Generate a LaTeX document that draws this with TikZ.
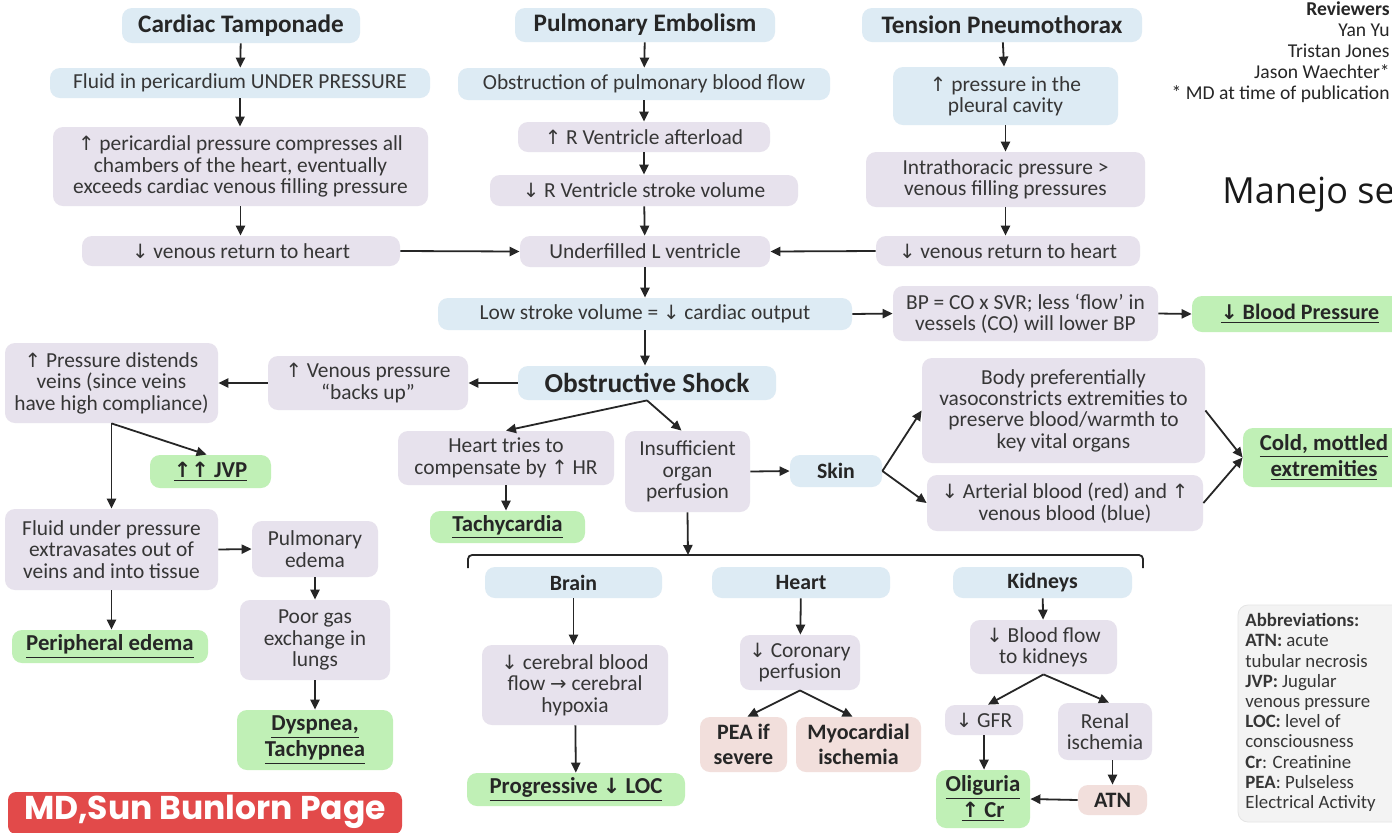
\documentclass[tikz,border=0pt]{standalone}
\usepackage{fontspec}
\setmainfont{Carlito}
\newfontfamily\opensans{Open Sans}
\newfontfamily\popfont{Poppins}
\newfontfamily\arrf[Scale=0.92]{DejaVu Sans}
\usetikzlibrary{arrows.meta,calc}
\definecolor{cblue}{HTML}{DDEBF4}
\definecolor{clav}{HTML}{E7E2ED}
\definecolor{cgreen}{HTML}{C0F0B6}
\definecolor{cpink}{HTML}{F2DFDC}
\definecolor{txt}{HTML}{363636}
\definecolor{cred}{HTML}{E24A4A}
\definecolor{abbr}{HTML}{F3F3F3}
\newcommand\bx[7]{\node[#2, minimum width={(#5-#3)*0.5pt}, minimum height={(#6-#4)*0.5pt}] (#1) at ({(#3+#5)/2},{(#4+#6)/2}) {#7};}
\newcommand\U{{\arrf ↑}}
\newcommand\D{{\arrf ↓}}
\newcommand\R{{\arrf →}}
\tikzset{
 base/.style={rounded corners=5pt, inner sep=0pt, align=center, text=txt, font=\fontsize{10.7}{10.7}\selectfont},
 bl/.style={base, fill=cblue},
 lv/.style={base, fill=clav},
 gr/.style={base, fill=cgreen, text=black!85, font=\fontsize{11.4}{13}\selectfont\bfseries},
 pk/.style={base, fill=cpink, text=black!85, font=\fontsize{11}{12.5}\selectfont\bfseries},
 ttl/.style={bl, text=black!85, font=\fontsize{12.6}{14}\selectfont\bfseries},
 sub/.style={bl, text=black!85, font=\fontsize{10.9}{12}\selectfont\bfseries},
 arr/.style={-{Triangle[length=5pt,width=4.6pt]}, line width=0.9pt, draw=black!85},
 ln/.style={line width=0.9pt, draw=black!85},
}
\begin{document}
\begin{tikzpicture}[x=0.5pt,y=-0.5pt]
\useasboundingbox (0,0) rectangle (1392,832);
\clip (0,0) rectangle (1392,832);
\fill[white] (0,0) rectangle (1392,832);
% column 1
\bx{CT}{ttl}{122}{8}{360}{43}{Cardiac Tamponade}
\bx{FP}{bl}{50}{68}{430}{98}{Fluid in pericardium UNDER PRESSURE}
\bx{PP}{lv}{53}{127}{428}{206}{\U\ pericardial pressure compresses all\\chambers of the heart, eventually\\exceeds cardiac venous filling pressure}
\bx{VR1}{lv}{82}{236}{400}{266}{\D\ venous return to heart}
% column 2
\bx{PE}{ttl}{515}{8}{775}{42}{Pulmonary Embolism}
\bx{OB}{bl}{458}{68}{830}{100}{Obstruction of pulmonary blood flow}
\bx{RA}{lv}{518}{122}{770}{152}{\U\ R Ventricle afterload}
\bx{RS}{lv}{490}{175}{798}{206}{\D\ R Ventricle stroke volume}
\bx{UL}{lv}{520}{236}{770}{267}{Underfilled L ventricle}
% column 3
\bx{TP}{ttl}{862}{8}{1142}{42}{Tension Pneumothorax}
\bx{TP1}{bl}{893}{67}{1118}{125}{\U\ pressure in the\\pleural cavity}
\bx{TP2}{lv}{866}{152}{1145}{207}{Intrathoracic pressure >\\venous filling pressures}
\bx{VR2}{lv}{876}{236}{1140}{266}{\D\ venous return to heart}
% middle
\bx{LSV}{bl}{438}{298}{852}{330}{Low stroke volume = \D\ cardiac output}
\bx{BP}{lv}{893}{286}{1158}{341}{BP = CO x SVR; less ‘flow’ in\\vessels (CO) will lower BP}
\bx{BPr}{gr}{1192}{296}{1410}{332}{}
\node[text=black!85, font=\fontsize{11}{13}\selectfont\bfseries, inner sep=0pt] (BPrT) at (1300,314) {\underline{\D\ Blood Pressure}};
\bx{OS}{bl}{518}{366}{776}{400}{}
\node[text=black!85, font=\fontsize{13.7}{15}\selectfont\bfseries] (OST) at (OS) {Obstructive Shock};
\bx{VP}{lv}{268}{356}{468}{410}{\U\ Venous pressure\\“backs up”}
\bx{PD}{lv}{5}{343}{218}{423}{\U\ Pressure distends\\veins (since veins\\have high compliance)}
\bx{JVP}{gr}{150}{455}{271}{488}{\underline{\U\U\ JVP}}
\bx{FU}{lv}{5}{509}{218}{590}{Fluid under pressure\\extravasates out of\\veins and into tissue}
\bx{PEd}{lv}{252}{521}{378}{577}{Pulmonary\\edema}
\bx{PG}{lv}{240}{600}{390}{680}{Poor gas\\exchange in\\lungs}
\bx{DT}{gr}{237}{710}{393}{770}{\underline{Dyspnea,}\\\underline{Tachypnea}}
\bx{PEr}{gr}{12}{630}{208}{663}{\underline{Peripheral edema}}
\bx{HT}{lv}{398}{431}{614}{485}{Heart tries to\\compensate by \U\ HR}
\bx{Tc}{gr}{430}{511}{585}{543}{\underline{Tachycardia}}
\bx{IOP}{lv}{625}{431}{750}{512}{Insufficient\\organ\\perfusion}
\bx{Skin}{sub}{790}{455}{882}{487}{Skin}
\bx{BPV}{lv}{922}{358}{1205}{463}{Body preferentially\\vasoconstricts extremities to\\preserve blood/warmth to\\key vital organs}
\bx{AB}{lv}{927}{475}{1203}{531}{\D\ Arterial blood (red) and \U\\venous blood (blue)}
\bx{CM}{gr}{1243}{428}{1405}{487}{\underline{Cold, mottled}\\\underline{extremities}}
% organs
\bx{Brain}{sub}{485}{567}{662}{598}{Brain}
\bx{CBF}{lv}{482}{645}{668}{725}{\D\ cerebral blood\\flow \R\ cerebral\\hypoxia}
\bx{PLOC}{gr}{467}{773}{685}{806}{\underline{Progressive \D\ LOC}}
\bx{Heart}{sub}{712}{567}{890}{598}{Heart}
\bx{CP}{lv}{740}{635}{860}{690}{\D\ Coronary\\perfusion}
\bx{PEA}{pk}{700}{717}{787}{772}{PEA if\\severe}
\bx{MI}{pk}{796}{717}{921}{772}{Myocardial\\ischemia}
\bx{Kid}{sub}{953}{567}{1132}{598}{Kidneys}
\bx{BFK}{lv}{970}{620}{1117}{674}{\D\ Blood flow\\to kidneys}
\bx{GFR}{lv}{945}{705}{1023}{735}{\D\ GFR}
\bx{RI}{lv}{1058}{703}{1152}{760}{Renal\\ischemia}
\bx{ATN}{pk}{1078}{785}{1147}{815}{ATN}
\bx{OL}{gr}{936}{770}{1030}{828}{\underline{Oliguria}\\\underline{\U\ Cr}}
% abbreviations
\bx{AbB}{base, fill=abbr, draw=black!10}{1238}{605}{1410}{822}{}
\node[anchor=north west, align=left, text=txt, inner sep=0pt, font=\fontsize{9.4}{10.1}\selectfont] (AbT) at (1245,613)
 {\textbf{Abbreviations:}\\\textbf{ATN:} acute\\tubular necrosis\\\textbf{JVP:} Jugular\\venous pressure\\\textbf{LOC:} level of\\consciousness\\\textbf{Cr}: Creatinine\\\textbf{PEA}: Pulseless\\Electrical Activity};
% reviewers
\node[anchor=north east, align=right, text=black!85, inner sep=0pt, font=\fontsize{9.8}{10.6}\selectfont] (Rev) at (1390,1)
 {\textbf{Reviewers}\\Yan Yu\\Tristan Jones\\Jason Waechter*\\* MD at time of publication};
\node[anchor=base west, inner sep=0pt, text=black!90, font=\opensans\fontsize{18}{20}\selectfont] (Man) at (1222,203) {Manejo se};
% red label
\bx{MD}{base, fill=cred, rounded corners=4pt}{8}{792}{402}{834}{}
\node[text=white, font=\popfont\bfseries\fontsize{16.5}{18}\selectfont] (MDT) at (205,812) {MD,Sun Bunlorn Page};
% connectors
\draw[arr] (CT) -- (FP);
\draw[arr] (FP.south) -- (FP.south |- PP.north);
\draw[arr] (PP.south) -- (PP.south |- VR1.north);
\draw[arr] (VR1.east) -- (UL.west);
\draw[arr] (PE) -- (OB);
\draw[arr] (OB) -- (RA);
\draw[arr] (RA) -- (RS);
\draw[arr] (RS) -- (UL);
\draw[arr] (TP) -- (TP1);
\draw[arr] (TP1) -- (TP2);
\draw[arr] (TP2.south) -- (TP2.south |- VR2.north);
\draw[arr] (VR2.west) -- (UL.east);
\draw[arr] (UL) -- (LSV);
\draw[arr] (LSV.east) -- (BP.west);
\draw[arr] (BP.east) -- (BPr.west);
\draw[arr] (LSV.south) -- (LSV.south |- OS.north);
\draw[arr] (OS.west) -- (VP.east);
\draw[arr] (VP.west) -- (PD.east);
\draw[arr] (PD.south) -- ([xshift=-2pt]JVP.north);
\draw[arr] (PD.south) -- (FU.north);
\draw[arr] (FU.east) -- (PEd.west);
\draw[arr] (PEd) -- (PG);
\draw[arr] (PG) -- (DT);
\draw[arr] (FU.south) -- (FU.south |- PEr.north);
\draw[arr] (OS.south) -- (HT.north);
\draw[arr] (OS.south) -- ([xshift=-3pt]IOP.north);
\draw[arr] (HT.south) -- (HT.south |- Tc.north);
\draw[arr] (IOP.east) -- (Skin.west);
\coordinate (brk) at (688,555);
\draw[arr] (IOP.south) -- (brk);
\draw[ln, rounded corners=2pt] (468,568) -- (468,555) -- (1143,555) -- (1143,568);
\draw[arr] (Skin.east) -- (BPV.west);
\draw[arr] (Skin.east) -- (AB.west);
\draw[arr] (BPV.east) -- (CM.west);
\draw[arr] (AB.east) -- (CM.west);
\draw[arr] (Brain.south) -- (Brain.south |- CBF.north);
\draw[arr] (CBF) -- (PLOC);
\draw[arr] (Heart) -- (CP);
\draw[arr] (CP.south) -- ([xshift=2pt]PEA.north);
\draw[arr] (CP.south) -- ([xshift=-3pt]MI.north);
\draw[arr] (Kid) -- (BFK);
\draw[arr] (BFK.south) -- ([xshift=2pt]GFR.north);
\draw[arr] (BFK.south) -- ([xshift=2pt]RI.north);
\draw[arr] (GFR.south) -- (GFR.south |- OL.north);
\draw[arr] (ATN.north |- RI.south) -- (ATN.north);
\draw[arr] (ATN.west) -- (OL.east);
\end{tikzpicture}
\end{document}
